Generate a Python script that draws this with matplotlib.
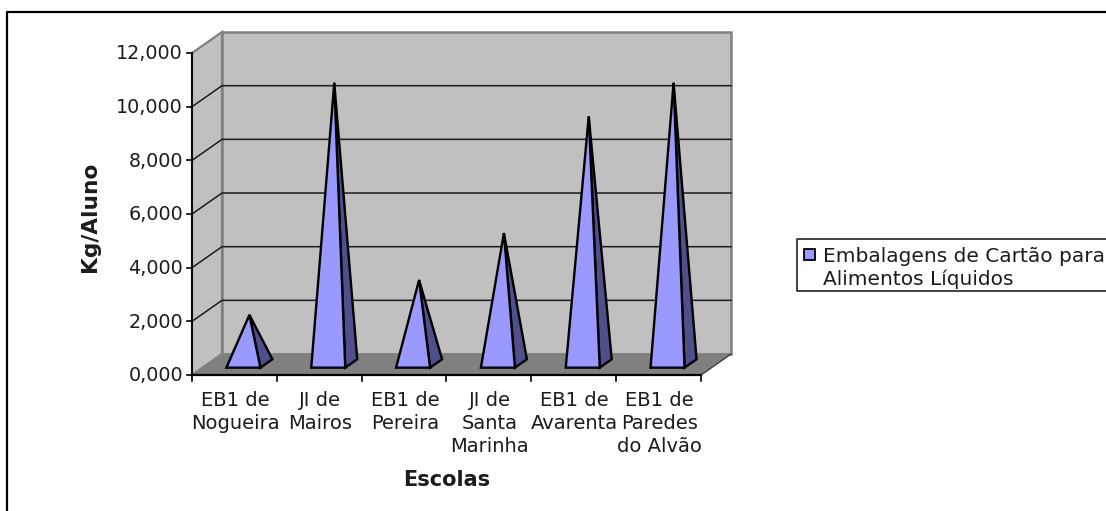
import matplotlib

matplotlib.use("Agg")
import matplotlib.pyplot as plt
from matplotlib.patches import Polygon, Rectangle

schools = ["EB1 de\nNogueira", "JI de\nMairos", "EB1 de\nPereira",
           "JI de\nSanta\nMarinha", "EB1 de\nAvarenta", "EB1 de\nParedes\ndo Alvão"]
kg_per_student = [1.85, 10.5, 3.15, 4.9, 9.25, 10.5]
y_ticks = [0, 2, 4, 6, 8, 10, 12]
y_ticklabels = ["0,000", "2,000", "4,000", "6,000", "8,000", "10,000", "12,000"]
series_name = "Embalagens de Cartão para\nAlimentos Líquidos"

W, H = 1106, 511
X0, Y0 = 192, 375          # pixel position of the front origin
CAT_PX, VAL_PX = 84.83, 26.83
DX, DY = 30 / CAT_PX, 21 / VAL_PX   # chart depth, in data units

WALL = "#C0C0C0"
EDGE = "#808080"
FRONT = "#9999FF"
SIDE = "#4F4F8C"
INK = "#1c1c1c"

fig = plt.figure(figsize=(W / 100, H / 100), dpi=100, facecolor="white")
ax = fig.add_axes([0, 0, 1, 1])
ax.set_xlim(-X0 / CAT_PX, (W - X0) / CAT_PX)
ax.set_ylim((Y0 - H) / VAL_PX, Y0 / VAL_PX)
ax.axis("off")


def fig_line(xs, ys, **kw):
    fig.add_artist(plt.Line2D([x / W for x in xs], [1 - y / H for y in ys], **kw))


# outer chart frame runs off the image on the right and at the bottom
fig_line([7, 7, W], [H, 12, 12], color="black", lw=1.6)

n = len(schools)
top = y_ticks[-1]

# walls and floor
ax.add_patch(Polygon([(0, 0), (DX, DY), (DX, top + DY), (0, top)], fc=WALL, ec=EDGE, lw=1.6, zorder=1))
ax.add_patch(Polygon([(DX, DY), (n + DX, DY), (n + DX, top + DY), (DX, top + DY)], fc=WALL, ec=EDGE, lw=1.8, zorder=1))
ax.add_patch(Polygon([(0, 0), (n, 0), (n + DX, DY), (DX, DY)], fc=EDGE, ec=EDGE, lw=1, zorder=2))

# gridlines on back and side wall
for t in y_ticks[1:-1]:
    ax.plot([0, DX, n + DX], [t, t + DY, t + DY], color="#1a1a1a", lw=1.1, zorder=3)

# axes
ax.plot([0, 0], [0, top], color="black", lw=1.3, zorder=4)
ax.plot([0, n], [0, 0], color="black", lw=1.6, zorder=4)
ax.plot([n, n + DX], [0, DY], color="#333333", lw=0.8, zorder=4)
for t, lab in zip(y_ticks, y_ticklabels):
    ax.plot([-5 / CAT_PX, 0], [t, t], color="black", lw=1.2, zorder=4)
    ax.text(-9 / CAT_PX, t - 0.03, lab, ha="right", va="center", fontsize=13.8, color=INK)
for i in range(n + 1):
    ax.plot([i, i], [0, -6 / VAL_PX], color="black", lw=1.2, zorder=4)

# pyramids
half = 17 / CAT_PX
for i, v in enumerate(kg_per_student):
    c = i + 0.5
    apex = (c + DX * 0.5, v + DY * 0.5)
    fl = (c - half + DX * 0.3, DY * 0.35)
    fr = (c + half + DX * 0.3, DY * 0.35)
    br = (c + half + DX * 0.7, DY * 0.75)
    ax.add_patch(Polygon([fr, br, apex], fc=SIDE, ec="black", lw=1.7, joinstyle="miter", zorder=5))
    ax.add_patch(Polygon([fl, fr, apex], fc=FRONT, ec="black", lw=1.7, joinstyle="miter", zorder=6))

# category labels
for i, lab in enumerate(schools):
    ax.text(i + 0.5 + 1 / CAT_PX, -15.5 / VAL_PX, lab, ha="center", va="top", fontsize=14,
            linespacing=1.27, color=INK)

# axis titles
fig.text(90 / W, 1 - 217 / H, "Kg/Aluno", rotation=90, ha="center", va="center",
         fontsize=15.6, fontweight="bold", color=INK)
fig.text(447 / W, 1 - 480 / H, "Escolas", ha="center", va="center",
         fontsize=15, fontweight="bold", color=INK)

# legend box, cut by the image edge
fig_line([W, 797, 797, W], [239, 239, 291, 291], color="#222222", lw=1.2)
fig.add_artist(Rectangle((804 / W, 1 - 260 / H), 11 / W, 11 / H, transform=fig.transFigure,
                         fc=FRONT, ec="black", lw=1.3))
fig.text(823 / W, 1 - 268 / H, series_name, ha="left", va="center", fontsize=14.5,
         linespacing=1.2, color=INK)

fig.savefig("out.png", dpi=100)
plt.close(fig)
